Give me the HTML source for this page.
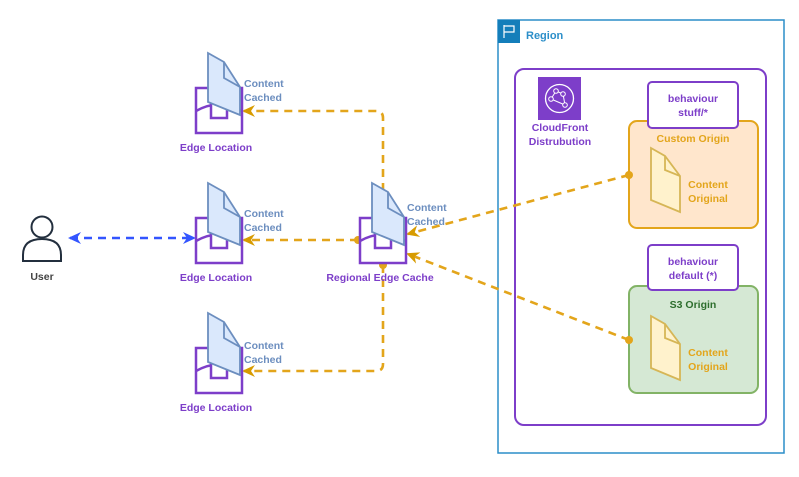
<!DOCTYPE html>
<html><head><meta charset="utf-8"><style>
html,body{margin:0;padding:0;background:#fff;}
svg{display:block;font-family:"Liberation Sans",Arial,sans-serif;font-weight:bold;}
</style></head><body>
<svg width="799" height="477" viewBox="0 0 799 477" xmlns="http://www.w3.org/2000/svg">
<defs>
<g id="edge">
  <rect x="0" y="0" width="46" height="45" fill="#fff" stroke="#7d3ec9" stroke-width="2.5"/>
  <path d="M0,23 Q23,10 46,23" fill="none" stroke="#7d3ec9" stroke-width="2.5"/>
  <rect x="15" y="15" width="16" height="15" fill="#fff" stroke="#7d3ec9" stroke-width="2.5"/>
  <path d="M12,-35 L28,-26 L44,-1 L44,27 L12,14 Z" fill="#dae8fc" stroke="#6c8ebf" stroke-width="1.8"/>
  <path d="M28,-26 L28,-10 L44,-1" fill="none" stroke="#6c8ebf" stroke-width="1.8"/>
</g>
<g id="odoc">
  <path d="M0,0 L14,8 L29,28 L29,64 L0,52 Z" fill="#fff2cc" stroke="#d6b656" stroke-width="1.8"/>
  <path d="M14,8 L14,22 L29,28" fill="none" stroke="#d6b656" stroke-width="1.8"/>
</g>
<marker id="oa" markerWidth="13" markerHeight="12" refX="11" refY="6" orient="auto" markerUnits="userSpaceOnUse"><path d="M0,0 L13,6 L0,12 L4,6 Z" fill="#d79b00"/></marker>
<marker id="ba" markerWidth="13" markerHeight="12" refX="11" refY="6" orient="auto-start-reverse" markerUnits="userSpaceOnUse"><path d="M0,0 L13,6 L0,12 L4,6 Z" fill="#3355ff"/></marker>
</defs>

<rect x="498" y="20" width="286" height="433" fill="none" stroke="#2b8ec9" stroke-width="1.5"/>
<rect x="498" y="20" width="22" height="23" fill="#147eba"/>
<path d="M504,25 V38 M504,26 H514 V32 H504" fill="none" stroke="#fff" stroke-width="1.2"/>
<text x="526" y="39" font-size="11" fill="#2b8ec9">Region</text>

<rect x="515" y="69" width="251" height="356" rx="9" fill="none" stroke="#7d3ec9" stroke-width="2"/>
<rect x="538" y="77" width="43" height="43" fill="#7d3ec9"/>
<circle cx="559.5" cy="98.5" r="14" fill="none" stroke="#fff" stroke-width="1.3"/>
<path d="M556,91 L551,99 L565,105 L563,94 Z" fill="none" stroke="#fff" stroke-width="1"/>
<circle cx="556" cy="91" r="2.3" fill="#7d3ec9" stroke="#fff"/><circle cx="551" cy="99" r="2.3" fill="#7d3ec9" stroke="#fff"/><circle cx="565" cy="105" r="2.3" fill="#7d3ec9" stroke="#fff"/><circle cx="563" cy="94" r="2.3" fill="#7d3ec9" stroke="#fff"/>
<text x="560" y="131" font-size="10.5" fill="#7d3ec9" text-anchor="middle">CloudFront</text>
<text x="560" y="145" font-size="10.5" fill="#7d3ec9" text-anchor="middle">Distrubution</text>

<rect x="629" y="121" width="129" height="107" rx="8" fill="#ffe6cc" stroke="#e3a51b" stroke-width="2"/>
<rect x="648" y="82" width="90" height="46" rx="4" fill="#fff" stroke="#7d3ec9" stroke-width="2"/>
<text x="693" y="102" font-size="10.5" fill="#7d3ec9" text-anchor="middle">behaviour</text>
<text x="693" y="116" font-size="10.5" fill="#7d3ec9" text-anchor="middle">stuff/*</text>
<text x="693" y="142" font-size="10.5" fill="#e3a51b" text-anchor="middle">Custom Origin</text>
<use href="#odoc" x="651" y="148"/>
<text x="708" y="188" font-size="10.5" fill="#e3a51b" text-anchor="middle">Content</text>
<text x="708" y="202" font-size="10.5" fill="#e3a51b" text-anchor="middle">Original</text>

<rect x="629" y="286" width="129" height="107" rx="8" fill="#d5e8d4" stroke="#82b366" stroke-width="2"/>
<rect x="648" y="245" width="90" height="45" rx="4" fill="#fff" stroke="#7d3ec9" stroke-width="2"/>
<text x="693" y="265" font-size="10.5" fill="#7d3ec9" text-anchor="middle">behaviour</text>
<text x="693" y="279" font-size="10.5" fill="#7d3ec9" text-anchor="middle">default (*)</text>
<text x="693" y="308" font-size="10.5" fill="#2d6e2d" text-anchor="middle">S3 Origin</text>
<use href="#odoc" x="651" y="316"/>
<text x="708" y="356" font-size="10.5" fill="#e3a51b" text-anchor="middle">Content</text>
<text x="708" y="370" font-size="10.5" fill="#e3a51b" text-anchor="middle">Original</text>

<g fill="none" stroke="#e3a51b" stroke-width="2.6" stroke-dasharray="8,6">
  <path d="M383,205 V118 Q383,111 376,111 H244" marker-end="url(#oa)"/>
  <path d="M358,240 H244" marker-end="url(#oa)"/>
  <path d="M383,265 V364 Q383,371 376,371 H244" marker-end="url(#oa)"/>
  <path d="M629,175 L408,234" marker-end="url(#oa)"/>
  <path d="M629,340 L408,254" marker-end="url(#oa)"/>
</g>
<g fill="#e3a51b"><circle cx="358" cy="240" r="4"/><circle cx="383" cy="265" r="4"/><circle cx="629" cy="175" r="4"/><circle cx="629" cy="340" r="4"/></g>
<path d="M70,238 H194" fill="none" stroke="#3355ff" stroke-width="2.6" stroke-dasharray="8,6" marker-start="url(#ba)" marker-end="url(#ba)"/>

<use href="#edge" x="196" y="88"/>
<use href="#edge" x="196" y="218"/>
<use href="#edge" x="196" y="348"/>
<use href="#edge" x="360" y="218"/>
<g font-size="10.5" fill="#6c8ebf">
<text x="244" y="87">Content</text><text x="244" y="101">Cached</text>
<text x="244" y="217">Content</text><text x="244" y="231">Cached</text>
<text x="244" y="349">Content</text><text x="244" y="363">Cached</text>
<text x="407" y="211">Content</text><text x="407" y="225">Cached</text>
</g>
<g font-size="10.5" fill="#7d3ec9" text-anchor="middle">
<text x="216" y="151">Edge Location</text>
<text x="216" y="281">Edge Location</text>
<text x="216" y="411">Edge Location</text>
<text x="380" y="281">Regional Edge Cache</text>
</g>

<circle cx="42" cy="227" r="10.5" fill="none" stroke="#232f3e" stroke-width="2"/>
<path d="M23,261 V255 Q23,239 42,239 Q61,239 61,255 V261 Z" fill="none" stroke="#232f3e" stroke-width="2"/>
<text x="42" y="280" font-size="10.5" fill="#444" text-anchor="middle">User</text>
</svg>
</body></html>
